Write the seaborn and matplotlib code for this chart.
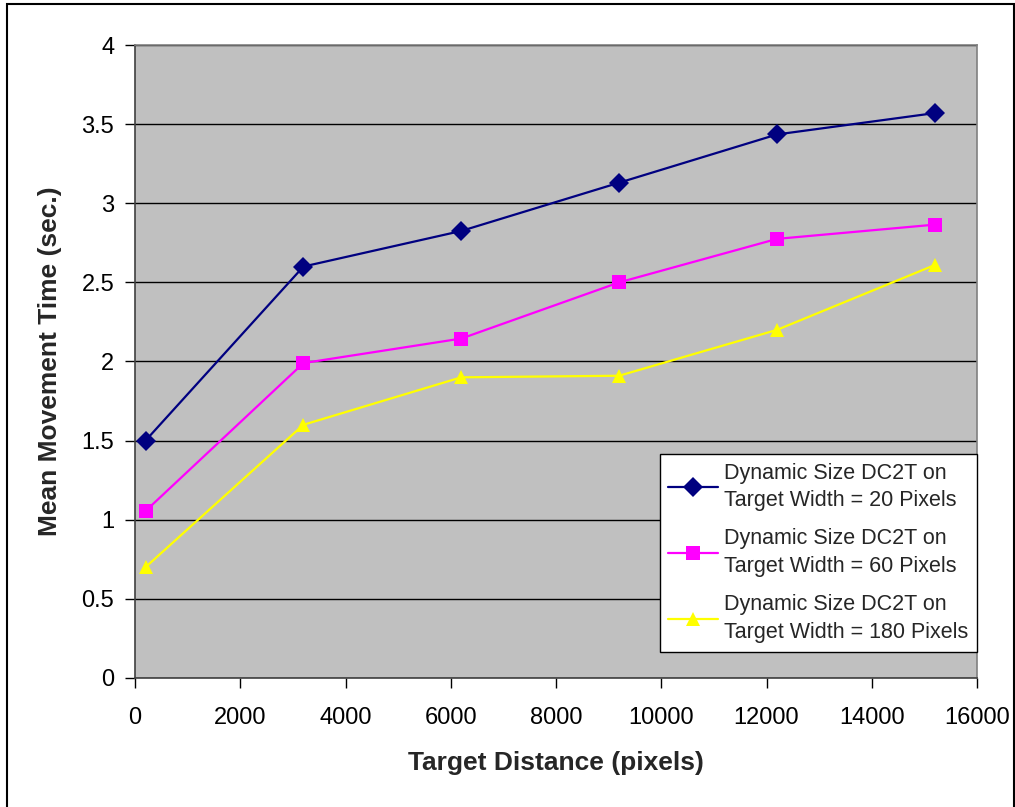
import matplotlib
matplotlib.use("Agg")
import matplotlib.pyplot as plt
import seaborn as sns
import pandas as pd
from matplotlib.patches import Rectangle

# Target distances (pixels)
distances = [200, 3200, 6200, 9200, 12200, 15200]

# Mean movement times (sec.) per target width
mt_w20 = [1.50, 2.60, 2.825, 3.13, 3.435, 3.57]
mt_w60 = [1.055, 1.99, 2.145, 2.50, 2.775, 2.865]
mt_w180 = [0.70, 1.60, 1.90, 1.91, 2.20, 2.61]

series_labels = [
    "Dynamic Size DC2T on\nTarget Width = 20 Pixels",
    "Dynamic Size DC2T on\nTarget Width = 60 Pixels",
    "Dynamic Size DC2T on\nTarget Width = 180 Pixels",
]
series_colors = ["#000080", "#FF00FF", "#FFFF00"]
series_markers = ["D", "s", "^"]

x_ticks = [0, 2000, 4000, 6000, 8000, 10000, 12000, 14000, 16000]
y_ticks = [0, 0.5, 1, 1.5, 2, 2.5, 3, 3.5, 4]

rows = []
for label, vals in zip(series_labels, [mt_w20, mt_w60, mt_w180]):
    for d, v in zip(distances, vals):
        rows.append({"distance": d, "time": v, "series": label})
df = pd.DataFrame(rows)

sns.set_theme(style="white")
plt.rcParams["font.family"] = ["Liberation Sans", "DejaVu Sans"]

fig = plt.figure(figsize=(10.15, 8.07), dpi=100)
ax = fig.add_axes([0.133, 0.1599, 0.8296, 0.7843])
ax.set_facecolor("#C0C0C0")

sns.lineplot(
    data=df, x="distance", y="time", hue="series", style="series",
    hue_order=series_labels, style_order=series_labels,
    palette=dict(zip(series_labels, series_colors)),
    markers=dict(zip(series_labels, series_markers)),
    dashes=False, markersize=10.5, markeredgewidth=0, linewidth=1.6,
    ax=ax, zorder=3,
)

ax.set_xlim(0, 16000)
ax.set_ylim(0, 4)
ax.set_xticks(x_ticks)
ax.set_yticks(y_ticks)
ax.set_xticklabels([str(t) for t in x_ticks])
ax.set_yticklabels([f"{t:g}" for t in y_ticks])
ax.tick_params(axis="both", labelsize=17, colors="black", direction="out",
               length=7, width=1, pad=8, bottom=True, left=True)
ax.tick_params(axis="x", pad=14)
ax.yaxis.grid(True, color="black", linewidth=1)
ax.xaxis.grid(False)
ax.set_axisbelow(True)

for side in ["top", "right"]:
    ax.spines[side].set_color("#808080")
    ax.spines[side].set_linewidth(1.2)
for side in ["left", "bottom"]:
    ax.spines[side].set_color("#404040")
    ax.spines[side].set_linewidth(1.2)

ax.set_xlabel("Target Distance (pixels)", fontsize=19, fontweight="bold", labelpad=16)
ax.set_ylabel("Mean Movement Time (sec.)", fontsize=19, fontweight="bold", labelpad=14)

leg = ax.legend(
    loc="upper right", bbox_to_anchor=(1.0, 0.354), borderaxespad=0,
    fontsize=15.5, frameon=True, fancybox=False, handlelength=2.3,
    labelspacing=0.8, borderpad=0.4, handletextpad=0.3,
)
for txt in leg.get_texts():
    txt.set_linespacing(1.42)
leg.get_frame().set_edgecolor("black")
leg.get_frame().set_linewidth(1)
leg.get_frame().set_facecolor("white")
leg.get_frame().set_alpha(1)

# Outer chart frame
fig.patches.append(Rectangle((7 / 1015, -0.02), 1 - 8 / 1015, 1.02 - 4 / 807,
                             transform=fig.transFigure, fill=False,
                             edgecolor="black", linewidth=1.5))

fig.savefig("out.png", dpi=100)
